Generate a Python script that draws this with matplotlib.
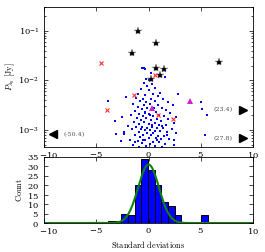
"""
Flux vs. standard deviation scatter, with histogram of deviations below
"""
import numpy as np
import matplotlib
matplotlib.use('Agg')
import matplotlib.pyplot as plt
from matplotlib.transforms import ScaledTranslation

plt.rcParams['mathtext.fontset'] = 'cm'
plt.rcParams['font.family'] = 'serif'
plt.rcParams['font.serif'] = ['DejaVu Serif']
plt.rcParams['axes.formatter.use_mathtext'] = True

# blue points: (std deviations, log10 flux)
blue_x = [-0.6, -0.45, -0.3, 0.2, -0.25, 1.6, 0.05,
          -0.4, 0.3, -0.1, 0.6, -0.7, 0.0, 1.1, -1.0, 0.4, -0.3, 2.8, 0.9,
          -2.15, -1.2, -0.5, 0.2, 1.4, -0.8, -0.2, 0.6, 1.9, -1.5, -0.4, 0.1, 0.9, 2.3,
          -1.0, -0.1, 0.5, 1.3, -0.6, 0.3, 1.7, -3.9, 5.0, 5.15,
          -1.3, -0.3, 0.7, 2.1, -0.9, 0.0, 1.0, -1.7, -0.5, 0.4, 1.5, 2.6, -2.5,
          -1.1, -0.2, 0.8, 1.9, -0.7, 0.2, 1.2, -1.4, -0.4, 0.6, 2.4, -0.9, 0.0,
          1.0, 1.7, 5.6, -3.2,
          -2.0, -1.2, -0.6, 0.3, 0.8, 1.4, 2.2, -1.6, -0.3, 0.1, 0.6, 1.1, 1.8,
          -0.9, -0.1, 0.4, 2.6, -2.3, -1.3, -0.5, 0.2, 0.9, 1.5, -0.8, 0.0, 0.7,
          1.2, 2.0, -1.8, -0.3, 5.4, -3.1,
          -2.6, -1.0, 0.4, 1.0, -0.6, 0.1, 1.6, -1.5, 2.4, -0.2, 0.6, -0.9, 1.3,
          -0.5, 0.8, 2.45, -1.3, 1.8, -2.35, -0.15, 0.35, -0.75, 1.25, 0.15, -0.35]
blue_logy = [-1.75, -1.75, -1.76, -1.85, -1.97, -1.93, -2.0,
             -2.05, -2.08, -2.12, -2.15, -2.18, -2.2, -2.25, -2.28, -2.28, -2.3, -2.28, -2.32,
             -2.33, -2.36, -2.38, -2.37, -2.38, -2.42, -2.44, -2.42, -2.43, -2.47, -2.5, -2.48, -2.5, -2.5,
             -2.53, -2.55, -2.55, -2.56, -2.58, -2.6, -2.6, -2.41, -2.43, -2.58,
             -2.62, -2.63, -2.64, -2.65, -2.67, -2.68, -2.69, -2.7, -2.71, -2.72, -2.72, -2.73, -2.74,
             -2.75, -2.76, -2.77, -2.78, -2.8, -2.8, -2.82, -2.83, -2.84, -2.85, -2.85, -2.88, -2.88,
             -2.89, -2.9, -2.69, -2.82,
             -2.92, -2.93, -2.93, -2.94, -2.95, -2.96, -2.97, -2.98, -2.99, -3.0, -3.01, -3.02, -3.03,
             -3.04, -3.05, -3.06, -3.06, -3.08, -3.09, -3.1, -3.1, -3.11, -3.12, -3.14, -3.15, -3.16,
             -3.17, -3.18, -3.19, -3.2, -3.1, -3.08,
             -3.22, -3.22, -3.23, -3.24, -3.26, -3.27, -3.27, -3.29, -3.3, -3.31, -3.32, -3.33, -3.34,
             -3.2, -3.2, -3.2, -3.24, -3.1, -3.04, -2.95, -2.9, -2.98, -2.92, -2.7, -2.65]

# black stars
star_x = [-1.0, 0.75, -1.6, 0.7, 1.5, 1.1, 0.2, 6.75]
star_y = [0.1, 0.057, 0.035, 0.018, 0.017, 0.0126, 0.0105, 0.023]

# red crosses
cross_x = [-4.5, 0.65, -1.4, -4.0, 0.9, 2.35]
cross_y = [0.022, 0.013, 0.005, 0.0026, 0.002, 0.0017]

# magenta triangles
tri_x = [4.0, 0.3]
tri_y = [0.0038, 0.0028]

# off-scale points (arrows) and their real values
arrow_x = [-9.1, 9.05, 9.05]
arrow_y = [0.00083, 0.0026, 0.00069]
arrow_marker = ['<', '>', '>']
arrow_label = ['(-50.4)', '(23.4)', '(27.8)']

# histogram of deviations
bin_edges = [-3.9, -3.26, -2.62, -1.98, -1.34, -0.70, -0.06, 0.58, 1.22,
             1.86, 2.50, 3.14, 3.78, 4.42, 5.06, 5.70]
counts = [1, 1, 5, 4, 20, 34, 28, 20, 11, 9, 4, 0, 0, 0, 4]

# gaussian fit parameters
g_amp, g_mu, g_sigma = 31.0, 0.0, 1.0

fig = plt.figure(figsize=(2.65, 2.52), dpi=100)
ax1 = fig.add_axes([0.166, 0.417, 0.789, 0.555])
ax2 = fig.add_axes([0.166, 0.115, 0.789, 0.262])

ax1.plot(blue_x, 10 ** np.array(blue_logy), 's', color='blue', ms=1.7, mew=0)
ax1.plot(star_x, star_y, '*', color='black', ms=6, mec='0.5', mew=0.3)
ax1.plot(cross_x, cross_y, 'x', color='#ff3030', ms=3, mew=0.8)
ax1.plot(tri_x, tri_y, '^', color='#d020d0', ms=4, mew=0)
for x, y, m, lab in zip(arrow_x, arrow_y, arrow_marker, arrow_label):
    ax1.plot(x, y, m, color='black', ms=6)
    if m == '<':
        ax1.text(x + 1.0, y, lab, fontsize=4.5, color='0.3', va='center', ha='left')
    else:
        ax1.text(x - 1.0, y, lab, fontsize=4.5, color='0.3', va='center', ha='right')

ax1.set_yscale('log')
ax1.set_xlim(-10, 10)
ax1.set_ylim(4.6e-4, 0.3)
ax1.set_xticks([-10, -5, 0, 5, 10])
ax1.set_ylabel(r'$P_{\lambda_0}\ \mathrm{[Jy]}$', fontsize=6, labelpad=1)

centers = np.array(bin_edges[:-1])
widths = np.diff(bin_edges)
ax2.bar(centers, counts, width=widths, align='edge', color='blue',
        edgecolor='black', linewidth=0.7)
xs = np.linspace(-10, 10, 400)
ax2.plot(xs, g_amp * np.exp(-0.5 * ((xs - g_mu) / g_sigma) ** 2),
         color='#108010', lw=1.5)
ax2.set_xlim(-10, 10)
ax2.set_ylim(0, 35)
ax2.set_xticks([-10, -5, 0, 5, 10])
ax2.set_yticks(range(0, 36, 5))
ax2.set_ylabel(r'$\mathrm{Count}$', fontsize=6, labelpad=2)
ax2.set_xlabel(r'$\mathrm{Standard\ deviations}$', fontsize=6, labelpad=2)

for ax in (ax1, ax2):
    ax.tick_params(which='both', direction='in', top=True, right=True,
                   labelsize=6, width=0.5)
    ax.tick_params(axis='x', pad=2.5)
    ax.tick_params(axis='y', pad=3.5)
    ax.tick_params(which='major', length=3)
    ax.tick_params(which='minor', length=1.5)
    for s in ax.spines.values():
        s.set_linewidth(0.6)
    # nudge the leftmost x label right so it clears the y labels
    lab = ax.get_xticklabels()[0]
    lab.set_transform(lab.get_transform() + ScaledTranslation(3.5 / 72, 0, fig.dpi_scale_trans))

plt.savefig('out.png', dpi=100)
